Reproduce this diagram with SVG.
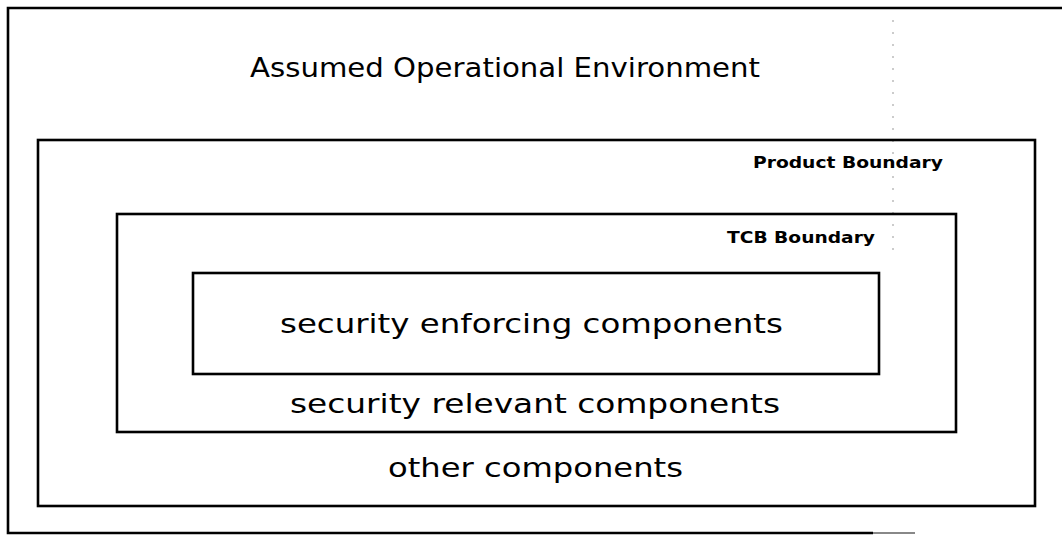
<svg xmlns="http://www.w3.org/2000/svg" width="1062" height="535" viewBox="0 0 1062 535">
<style>
.box{fill:none;stroke:#000;stroke-width:2.6}
.t{font-family:"DejaVu Sans","Liberation Sans",sans-serif;fill:#000}
.big{font-size:27px}
.small{font-size:15px;font-weight:bold}
</style>
<rect width="1062" height="535" fill="#fff"/>
<g id="environment">
<path class="box" d="M1062 8 H8 V533 H873"/>
<path d="M873 533 H915" stroke="#888" stroke-width="2" fill="none"/>
<path d="M893 20 V250" stroke="#999" stroke-width="1" stroke-dasharray="2 10" fill="none"/>
<text class="t big" x="250" y="77" textLength="510" lengthAdjust="spacingAndGlyphs">Assumed Operational Environment</text>
</g>
<g id="product">
<rect class="box" x="38" y="140" width="997" height="366"/>
<text class="t small" x="753" y="168" textLength="190" lengthAdjust="spacingAndGlyphs">Product Boundary</text>
</g>
<g id="tcb">
<rect class="box" x="117" y="214" width="839" height="218"/>
<text class="t small" x="727" y="243" textLength="148" lengthAdjust="spacingAndGlyphs">TCB Boundary</text>
<text class="t big" x="290" y="413" textLength="490" lengthAdjust="spacingAndGlyphs">security relevant components</text>
</g>
<g id="enforcing">
<rect class="box" x="193" y="273" width="686" height="101"/>
<text class="t big" x="280" y="333" textLength="503" lengthAdjust="spacingAndGlyphs">security enforcing components</text>
</g>
<g id="other">
<text class="t big" x="388" y="477" textLength="295" lengthAdjust="spacingAndGlyphs">other components</text>
</g>
<g id="connectors"/>
</svg>
